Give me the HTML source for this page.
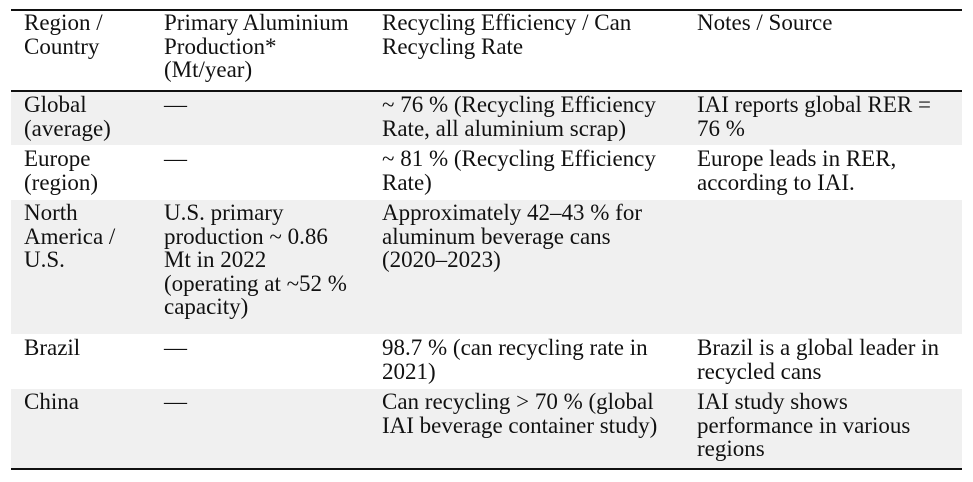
<!DOCTYPE html>
<html><head><meta charset="utf-8"><style>
body{margin:0;width:973px;height:482px;background:#fff;position:relative;overflow:hidden;font-family:"Liberation Serif","Times New Roman",serif;font-size:23px;line-height:23.5px;color:#111}
.bg{position:absolute;left:11px;width:951px;background:#f0f0f0}
.ln{position:absolute;left:11px;width:951px;height:2px;background:#111}
.t{position:absolute;white-space:nowrap}
</style></head><body>
<div class="bg" style="top:92px;height:53px"></div>
<div class="bg" style="top:200px;height:134px"></div>
<div class="bg" style="top:389px;height:80px"></div>
<div class="ln" style="top:9px"></div>
<div class="ln" style="top:90px"></div>
<div class="ln" style="top:468px"></div>

<div class="t" style="left:24px;top:11px">Region /<br>Country</div>
<div class="t" style="left:164px;top:11px">Primary Aluminium<br>Production*<br>(Mt/year)</div>
<div class="t" style="left:382px;top:11px">Recycling Efficiency / Can<br>Recycling Rate</div>
<div class="t" style="left:697px;top:11px">Notes / Source</div>

<div class="t" style="left:24px;top:93px">Global<br>(average)</div>
<div class="t" style="left:164px;top:93px">—</div>
<div class="t" style="left:382px;top:93px">~ 76 % (Recycling Efficiency<br>Rate, all aluminium scrap)</div>
<div class="t" style="left:697px;top:93px">IAI reports global RER =<br>76 %</div>

<div class="t" style="left:24px;top:147px">Europe<br>(region)</div>
<div class="t" style="left:164px;top:147px">—</div>
<div class="t" style="left:382px;top:147px">~ 81 % (Recycling Efficiency<br>Rate)</div>
<div class="t" style="left:697px;top:147px">Europe leads in RER,<br>according to IAI.</div>

<div class="t" style="left:24px;top:201px">North<br>America /<br>U.S.</div>
<div class="t" style="left:164px;top:201px">U.S. primary<br>production ~ 0.86<br>Mt in 2022<br>(operating at ~52 %<br>capacity)</div>
<div class="t" style="left:382px;top:201px">Approximately 42–43 % for<br>aluminum beverage cans<br>(2020–2023)</div>

<div class="t" style="left:24px;top:336px">Brazil</div>
<div class="t" style="left:164px;top:336px">—</div>
<div class="t" style="left:382px;top:336px">98.7 % (can recycling rate in<br>2021)</div>
<div class="t" style="left:697px;top:336px">Brazil is a global leader in<br>recycled cans</div>

<div class="t" style="left:24px;top:390px">China</div>
<div class="t" style="left:164px;top:390px">—</div>
<div class="t" style="left:382px;top:390px">Can recycling &gt; 70 % (global<br>IAI beverage container study)</div>
<div class="t" style="left:697px;top:390px">IAI study shows<br>performance in various<br>regions</div>
</body></html>
